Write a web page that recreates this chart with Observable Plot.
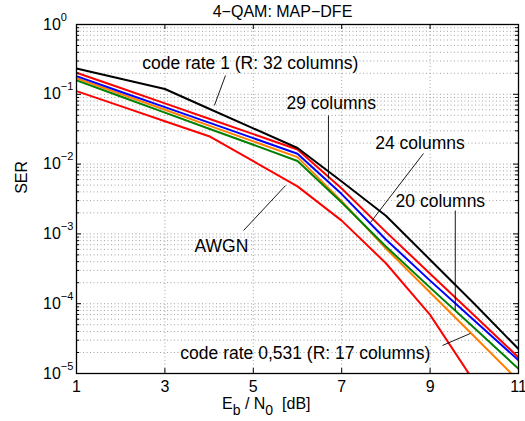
<!DOCTYPE html>
<html>
<head>
<meta charset="utf-8">
<script src="https://cdn.jsdelivr.net/npm/d3@7"></script>
<script src="https://cdn.jsdelivr.net/npm/@observablehq/plot@0.6"></script>
<style>
  html, body { margin: 0; padding: 0; background: #fff; }
  svg text { font-family: "Liberation Sans", Arial, Helvetica, sans-serif; }
</style>
</head>
<body>
<div id="chart"></div>
<script>
// ---- data ----
const ebn0 = [1, 2, 3, 4, 5, 6, 7, 8, 9, 10, 11];
const serRate1 = [0.234, 0.167, 0.119, 0.0621, 0.0325, 0.0170, 0.00562, 0.00182, 4.27e-4, 1.0e-4, 2.24e-5];   // 32 columns
const ser29 = [0.204, 0.123, 0.0741, 0.0447, 0.0269, 0.0162, 0.00447, 0.00107, 2.69e-4, 6.76e-5, 1.70e-5];
const ser24 = [0.182, 0.109, 0.0655, 0.0393, 0.0236, 0.0141, 0.00372, 8.32e-4, 2.14e-4, 5.75e-5, 1.55e-5];
const ser20 = [0.158, 0.0931, 0.0547, 0.0321, 0.0189, 0.0111, 0.00282, 6.61e-4, 1.70e-4, 4.47e-5, 1.17e-5];
const ser17 = [0.170, 0.101, 0.0600, 0.0356, 0.0212, 0.0126, 0.00295, 6.17e-4, 1.45e-4, 3.39e-5, 7.9e-6];   // code rate 0,531
const serAWGN = [0.111, 0.0676, 0.0412, 0.0251, 0.0110, 0.00479, 0.00155, 3.80e-4, 6.92e-5, 7.6e-6];

const seriesNames = ["AWGN", "17 columns", "20 columns", "24 columns", "29 columns", "32 columns"];
const seriesValues = [serAWGN, ser17, ser20, ser24, ser29, serRate1];
const seriesColors = ["#ff0000", "#ff8000", "#008000", "#0000ff", "#ff0000", "#000000"];

const xTicks = [1, 3, 5, 7, 9, 11];
const xTickLabels = ["1", "3", "5", "7", "9", "11"];
const yTicks = [1, 0.1, 0.01, 0.001, 1e-4, 1e-5];
const yTickExps = ["0", "\u22121", "\u22122", "\u22123", "\u22124", "\u22125"];

const titleText = "4\u2212QAM: MAP\u2212DFE";

const notes = [
  {x: 2.49, y: 0.279,   text: "code rate 1 (R: 32 columns)"},
  {x: 5.75, y: 0.0746,  text: "29 columns"},
  {x: 7.76, y: 0.01995, text: "24 columns"},
  {x: 8.22, y: 0.0029,  text: "20 columns"},
  {x: 3.67, y: 6.58e-4, text: "AWGN"},
  {x: 3.35, y: 1.95e-5, text: "code rate 0,531 (R: 17 columns)"}
];
const pointers = [
  {x1: 4.37, y1: 0.1858,  x2: 4.12, y2: 0.0692},
  {x1: 6.70, y1: 0.0497,  x2: 6.70, y2: 0.00622},
  {x1: 8.85, y1: 0.01419, x2: 7.65, y2: 0.001455},
  {x1: 9.57, y1: 0.002163, x2: 9.57, y2: 8.0e-5},
  {x1: 4.78, y1: 0.001119, x2: 5.73, y2: 0.00493},
  {x1: 9.28, y1: 2.52e-5, x2: 9.91, y2: 3.74e-5}
];

// minor log grid positions
const yGrid = [];
for (let e = -5; e <= -1; e++) for (let m = 1; m <= 9; m++) yGrid.push(m * Math.pow(10, e));
yGrid.push(1);
const yMinor = yGrid.filter(v => !yTicks.some(t => Math.abs(t - v) / t < 1e-9));

// ---- layout ----
const W = 525, H = 421, mL = 76, mR = 7, mT = 24, mB = 48;
const pw = W - mL - mR, ph = H - mT - mB;

const lineMarks = seriesValues.map((vals, k) =>
  Plot.line(vals.map((v, i) => ({x: ebn0[i], y: v})), {
    x: "x", y: "y", stroke: seriesColors[k], strokeWidth: 2, clip: true
  })
);

const gridStyle = {stroke: "#8a8a8a", strokeWidth: 0.8, strokeDasharray: "1,2.5"};

const plot = Plot.plot({
  width: W, height: H,
  marginLeft: mL, marginRight: mR, marginTop: mT, marginBottom: mB,
  x: {domain: [1, 11], axis: null},
  y: {type: "log", domain: [1e-5, 1], axis: null},
  style: {background: "#fff", color: "#000", fontFamily: "Liberation Sans, Arial, Helvetica, sans-serif", fontSize: "16px"},
  marks: [
    Plot.ruleY(yGrid, {y: d => d, ...gridStyle}),
    Plot.ruleX(xTicks.slice(1, -1), {x: d => d, ...gridStyle}),
    ...lineMarks,
    // inner ticks
    Plot.ruleY(yTicks, {y: d => d, insetRight: pw - 5, stroke: "#000"}),
    Plot.ruleY(yTicks, {y: d => d, insetLeft: pw - 5, stroke: "#000"}),
    Plot.ruleY(yMinor, {y: d => d, insetRight: pw - 3, stroke: "#000"}),
    Plot.ruleY(yMinor, {y: d => d, insetLeft: pw - 3, stroke: "#000"}),
    Plot.ruleX(xTicks, {x: d => d, insetBottom: ph - 5, stroke: "#000"}),
    Plot.ruleX(xTicks, {x: d => d, insetTop: ph - 5, stroke: "#000"}),
    Plot.frame({stroke: "#000", strokeWidth: 1.3}),
    // annotations
    Plot.link(pointers, {x1: "x1", y1: "y1", x2: "x2", y2: "y2", stroke: "#000", strokeWidth: 0.9}),
    Plot.text(notes, {x: "x", y: "y", text: "text", textAnchor: "start", fontSize: 17.5, fill: "#000"}),
    // tick labels
    Plot.text(xTicks, {x: d => d, text: (d, i) => xTickLabels[i], frameAnchor: "bottom", lineAnchor: "top", dy: 7, fontSize: 16}),
    Plot.text(yTicks, {y: d => d, text: () => "10", frameAnchor: "left", textAnchor: "start", dx: -33.5, fontSize: 16}),
    // titles
    Plot.text([titleText], {text: d => d, frameAnchor: "top", dx: -15, dy: -7.3, lineAnchor: "bottom", fontSize: 16}),
    Plot.text(["SER"], {text: d => d, frameAnchor: "left", dx: -54.3, dy: -5.2, rotate: -90, fontSize: 16}),
    Plot.text(["E"], {text: d => d, frameAnchor: "bottom-left", dx: 145.5, dy: 35, lineAnchor: "bottom", textAnchor: "start", fontSize: 16})
  ]
});

// superscripts for y tick labels (the texts reading "10", in data order)
const tenLabels = d3.select(plot).selectAll("text").filter(function() { return this.textContent === "10"; });
tenLabels.each(function(d, i) {
  d3.select(this).append("tspan").attr("dy", -9).attr("font-size", 11).text(yTickExps[i]);
});
// subscripts for x label
const xl = d3.select(plot).selectAll("text").filter(function() { return this.textContent === "E"; });
xl.append("tspan").attr("dy", 6).attr("font-size", 14).text("b");
xl.append("tspan").attr("dy", -6).text(" / N");
xl.append("tspan").attr("dy", 6).attr("font-size", 14).text("0");
xl.append("tspan").attr("dy", -6).text("\u00a0\u00a0[dB]");

document.getElementById("chart").appendChild(plot);
</script>
</body>
</html>
